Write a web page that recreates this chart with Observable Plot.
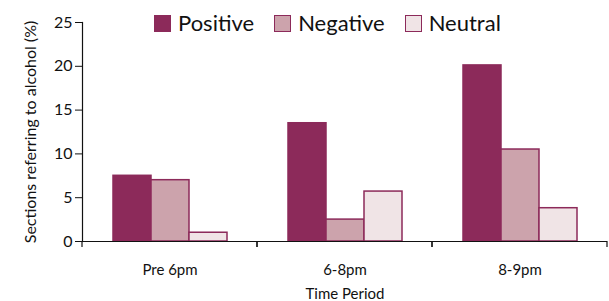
<!DOCTYPE html>
<html><head><meta charset="utf-8">
<script src="https://cdn.jsdelivr.net/npm/d3@7"></script>
<script src="https://cdn.jsdelivr.net/npm/@observablehq/plot@0.6"></script>
<style>
body{margin:0;background:#fff;}
#wrap{position:relative;width:609px;height:301px;font-family:Lato,sans-serif;}
#legend{position:absolute;left:154px;top:12px;display:flex;align-items:center;font-size:22px;color:#111;line-height:1;}
#legend .item{display:flex;align-items:center;margin-right:20px;}
#legend .sw{width:15px;height:15px;border:1.5px solid #8c2a5a;margin-right:7px;}
</style></head><body><div id="wrap"></div>
<script>
const periods = ["Pre 6pm", "6-8pm", "8-9pm"];
const series = ["Positive", "Negative", "Neutral"];
const positive = [7.5, 13.5, 20.1];
const negative = [7.0, 2.5, 10.5];
const neutral = [1.0, 5.7, 3.8];
const fills = ["#8c2a5a", "#cca3ac", "#f0e4e6"];
const yTicks = [0, 5, 10, 15, 20, 25];
const yLabel = "Sections referring to alcohol (%)";
const xLabel = "Time Period";

const values = [positive, negative, neutral];
const data = [];
periods.forEach((p, i) => series.forEach((s, j) => data.push({period: p, series: s, value: values[j][i]})));

const ink = "#111";
const boundaryTicks = (index, scales, vals, dims) => {
  const g = d3.create("svg:g");
  const y0 = dims.height - dims.marginBottom;
  for (const x of [dims.marginLeft, dims.width - dims.marginRight]) {
    g.append("line").attr("x1", x).attr("x2", x).attr("y1", y0).attr("y2", y0 + 6).attr("stroke", ink).attr("stroke-width", 1.2);
  }
  return g.node();
};

const chart = Plot.plot({
  width: 609, height: 301,
  marginLeft: 81, marginRight: 1, marginTop: 22, marginBottom: 60,
  style: {fontFamily: "Lato, sans-serif", fontSize: "14px", color: ink, background: "#fff"},
  fx: {domain: periods, padding: 0},
  x: {domain: series, paddingInner: 0, paddingOuter: 0.75, axis: null},
  y: {domain: [0, 25]},
  color: {domain: series, range: fills},
  marks: [
    Plot.barY(data, {fx: "period", x: "series", y: "value", fill: "series", stroke: "#8c2a5a", strokeWidth: 1.5}),
    Plot.ruleY([0], {stroke: ink, strokeWidth: 1.2}),
    Plot.frame({anchor: "left", facetAnchor: "left", stroke: ink, strokeWidth: 1.2}),
    boundaryTicks,
    Plot.axisY({ticks: yTicks, tickSize: 7, tickPadding: 3, fontSize: 16, label: yLabel, labelAnchor: "center", labelOffset: 58, labelArrow: "none"}),
    Plot.axisFx({anchor: "bottom", tickSize: 0, tickPadding: 23, fontSize: 15, label: xLabel, labelAnchor: "center", labelOffset: 57, labelArrow: "none"})
  ]
});
const wrap = document.getElementById("wrap");
wrap.appendChild(chart);

const legend = document.createElement("div");
legend.id = "legend";
series.forEach((s, j) => {
  const it = document.createElement("div");
  it.className = "item";
  const sw = document.createElement("div");
  sw.className = "sw";
  sw.style.background = fills[j];
  const t = document.createElement("span");
  t.textContent = s;
  it.appendChild(sw); it.appendChild(t);
  legend.appendChild(it);
});
wrap.appendChild(legend);
</script>
</body></html>
